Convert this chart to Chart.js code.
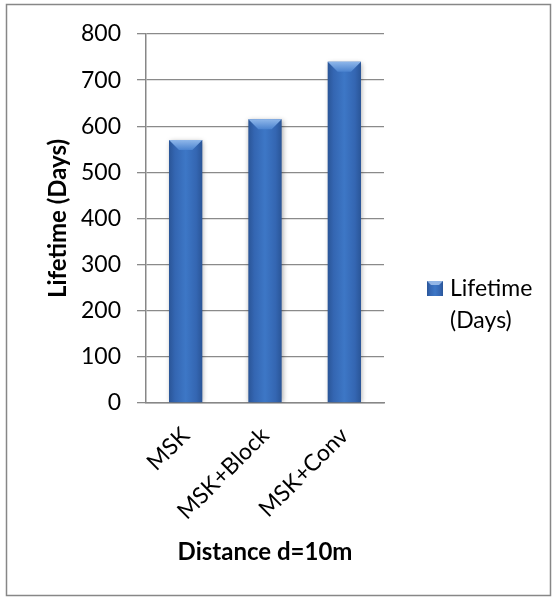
<!DOCTYPE html>
<html>
<head>
<meta charset="utf-8">
<script src="https://cdn.jsdelivr.net/npm/chart.js@4"></script>
<style>
  html, body { margin: 0; padding: 0; background: #fff; }
  canvas { display: block; }
</style>
</head>
<body>
<canvas id="lifetimeChart" width="557" height="600"></canvas>
<script>
const categories = ['MSK', 'MSK+Block', 'MSK+Conv'];
const lifetimeDays = [570, 615, 740];
const seriesName = 'Lifetime (Days)';
const yTitle = 'Lifetime (Days)';
const xTitle = 'Distance d=10m';
const yMin = 0, yMax = 800, yStep = 100;

const FONT = 'Lato, "Open Sans", sans-serif';
const BAR_PCT = 0.42;

// horizontal cylinder-like shading for a bar / swatch
const barGradient = (ctx, left, right) => {
    const g = ctx.createLinearGradient(left, 0, right, 0);
    g.addColorStop(0, '#2a5597');
    g.addColorStop(0.18, '#3466b2');
    g.addColorStop(0.5, '#3d77c6');
    g.addColorStop(0.82, '#3466b2');
    g.addColorStop(1, '#2a5597');
    return g;
};

const framePlugin = {
    id: 'frame',
    beforeDraw(chart) {
        const c = chart.ctx;
        c.save();
        c.fillStyle = '#fff';
        c.fillRect(0, 0, chart.width, chart.height);
        c.strokeStyle = '#878787';
        c.lineWidth = 1.5;
        c.strokeRect(6.5, 4.5, 544, 591);
        c.restore();
    },
};

const barShade = {
    id: 'barShade',
    beforeDatasetsDraw(chart) {
        const c = chart.ctx;
        c.save();
        c.shadowColor = 'rgba(0,0,0,0.35)';
        c.shadowBlur = 5;
        c.shadowOffsetX = 1;
        c.shadowOffsetY = 1;
    },
    afterDatasetsDraw(chart) {
        const c = chart.ctx;
        c.restore();
        // bevelled top face
        chart.getDatasetMeta(0).data.forEach(bar => {
            const {x, y, width} = bar.getProps(['x', 'y', 'width'], true);
            if (![x, y, width].every(Number.isFinite)) return;
            const l = x - width / 2, r = x + width / 2, d = 10;
            const g = c.createLinearGradient(0, y, 0, y + d);
            g.addColorStop(0, '#8fb7ea');
            g.addColorStop(1, '#4b83cf');
            c.save();
            c.fillStyle = g;
            c.beginPath();
            c.moveTo(l, y);
            c.lineTo(r, y);
            c.lineTo(r - d, y + d);
            c.lineTo(l + d, y + d);
            c.closePath();
            c.fill();
            c.restore();
        });
    },
};

// legend on the right, label wrapped over two lines
const sideLegend = {
    id: 'sideLegend',
    afterDraw(chart) {
        const c = chart.ctx;
        const sx = 427, sy = 281, s = 16;
        c.save();
        c.fillStyle = barGradient(c, sx, sx + s);
        c.fillRect(sx, sy, s, s - 1);
        c.fillStyle = 'rgba(170,200,240,0.8)';
        c.beginPath();
        c.moveTo(sx, sy); c.lineTo(sx + s, sy); c.lineTo(sx + s - 4, sy + 4); c.lineTo(sx + 4, sy + 4);
        c.closePath(); c.fill();
        c.fillStyle = '#000';
        c.font = '23px ' + FONT;
        c.textBaseline = 'alphabetic';
        const words = chart.data.datasets[0].label.split(' ');
        words.forEach((w, i) => c.fillText(w, 450, 296 + i * 32));
        c.restore();
    },
};

new Chart(document.getElementById('lifetimeChart'), {
    type: 'bar',
    data: {
        labels: categories,
        datasets: [{
            label: seriesName,
            data: lifetimeDays,
            backgroundColor: (ctx) => {
                const xs = ctx.chart.scales.x;
                if (!xs || ctx.dataIndex === undefined) return '#3a70c0';
                const cx = xs.getPixelForValue(ctx.dataIndex);
                const half = xs.width / categories.length * BAR_PCT / 2;
                if (!Number.isFinite(cx) || !Number.isFinite(half) || half <= 0) return '#3a70c0';
                return barGradient(ctx.chart.ctx, cx - half, cx + half);
            },
            borderWidth: 0,
            barPercentage: BAR_PCT,
            categoryPercentage: 1,
        }],
    },
    options: {
        responsive: false,
        animation: false,
        layout: {padding: {left: 40, right: 173, top: 34, bottom: 29}},
        plugins: {
            legend: {display: false},
            tooltip: {enabled: false},
        },
        scales: {
            x: {
                afterFit: (s) => { s.height = 168; },
                grid: {display: false},
                border: {color: '#878787', width: 1.5},
                ticks: {
                    color: '#000',
                    font: {family: FONT, size: 23},
                    minRotation: 45,
                    maxRotation: 45,
                    padding: 11,
                },
                title: {
                    display: true,
                    text: xTitle,
                    color: '#000',
                    font: {family: FONT, size: 24, weight: 'bold'},
                },
            },
            y: {
                min: yMin,
                max: yMax,
                afterFit: (s) => { s.width = 106; },
                grid: {color: '#8a8a8a', lineWidth: 1.3, tickLength: 9},
                border: {color: '#878787', width: 1.5},
                ticks: {
                    stepSize: yStep,
                    color: '#000',
                    font: {family: FONT, size: 23},
                    padding: 16,
                },
                title: {
                    display: true,
                    text: yTitle,
                    color: '#000',
                    font: {family: FONT, size: 24, weight: 'bold'},
                },
            },
        },
    },
    plugins: [framePlugin, barShade, sideLegend],
});
</script>
</body>
</html>
